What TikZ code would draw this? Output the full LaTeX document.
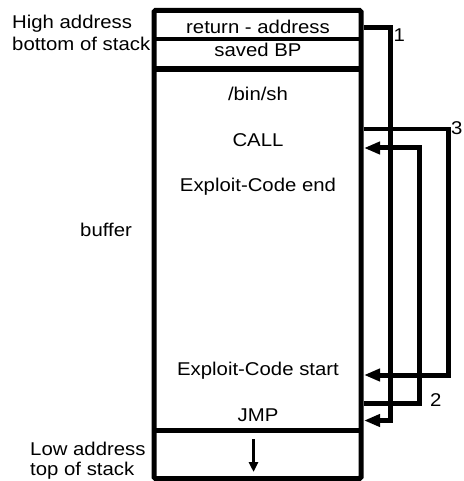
\documentclass[tikz,border=0pt]{standalone}
\usepackage{fontspec}
\setmainfont{Liberation Sans}[FakeStretch=1.1]
\usetikzlibrary{arrows.meta}
\begin{document}
\begin{tikzpicture}[x=1pt,y=-1pt,
  lbl/.style={font=\fontsize{18.5}{20}\selectfont, inner sep=0pt, anchor=base},
  lblw/.style={lbl, anchor=base west},
  frame/.style={line width=5pt, line join=miter},
  conn/.style={line width=5pt, line join=miter},
  tip/.style={-{Triangle[length=16pt,width=12pt]}}]
\useasboundingbox (0,0) rectangle (463,481);
% stack frame
\draw[frame, rounded corners=1.5pt] (154,10.5) rectangle (361,478.5);
\draw[line width=4pt] (154,38.7) -- (361,38.7);
\draw[line width=6pt] (154,69) -- (361,69);
\draw[line width=5pt] (154,430.5) -- (361,430.5);
% texts in the stack
\node[lbl] (ret) at (258,33.3) {return - address};
\node[lbl] (bp) at (258,56.7) {saved BP};
\node[lbl] (binsh) at (258,101) {/bin/sh};
\node[lbl] (call) at (258,146.6) {CALL};
\node[lbl] (xend) at (258,191.6) {Exploit-Code end};
\node[lbl] (xstart) at (258,375) {Exploit-Code start};
\node[lbl] (jmp) at (258,421.6) {JMP};
% side labels
\node[lblw] (high) at (12,28.5) {High address};
\node[lblw] (bottom) at (12,50.3) {bottom of stack};
\node[lblw] (buffer) at (80,236.8) {buffer};
\node[lblw] (low) at (30,455) {Low address};
\node[lblw] (topst) at (30,475.5) {top of stack};
% edge points
\coordinate (retR) at (363.5,28);
\coordinate (jmpOut) at (363.5,403);
\coordinate (jmpIn) at (364,420.5);
\coordinate (callOut) at (363.5,129);
\coordinate (callIn) at (364,148);
\coordinate (startIn) at (364,375);
\coordinate (c1a) at (390.5,28);
\coordinate (c1b) at (390.5,420.5);
\coordinate (c2a) at (419.5,403);
\coordinate (c2b) at (419.5,148);
\coordinate (c3a) at (448,129);
\coordinate (c3t) at (448,127);
\coordinate (c3b) at (448,375);
% connectors
\draw[conn,tip] (retR) -- (c1a) -- (c1b) -- (jmpIn);
\draw[conn,tip] (jmpOut) -- (c2a) -- (c2b) -- (callIn);
\draw[line width=4pt] (callOut) -- (c3a);
\draw[conn,tip] (c3t) -- (c3b) -- (startIn);
\node[lblw] (n1) at (393.5,41.7) {1};
\node[lblw] (n2) at (430,406.5) {2};
\node[lblw] (n3) at (451,135) {3};
% growth arrow
\coordinate (dnA) at (253.5,439);
\coordinate (dnB) at (253.5,472);
\draw[line width=3pt, -{Triangle[length=10pt,width=9pt]}] (dnA) -- (dnB);
\end{tikzpicture}
\end{document}
